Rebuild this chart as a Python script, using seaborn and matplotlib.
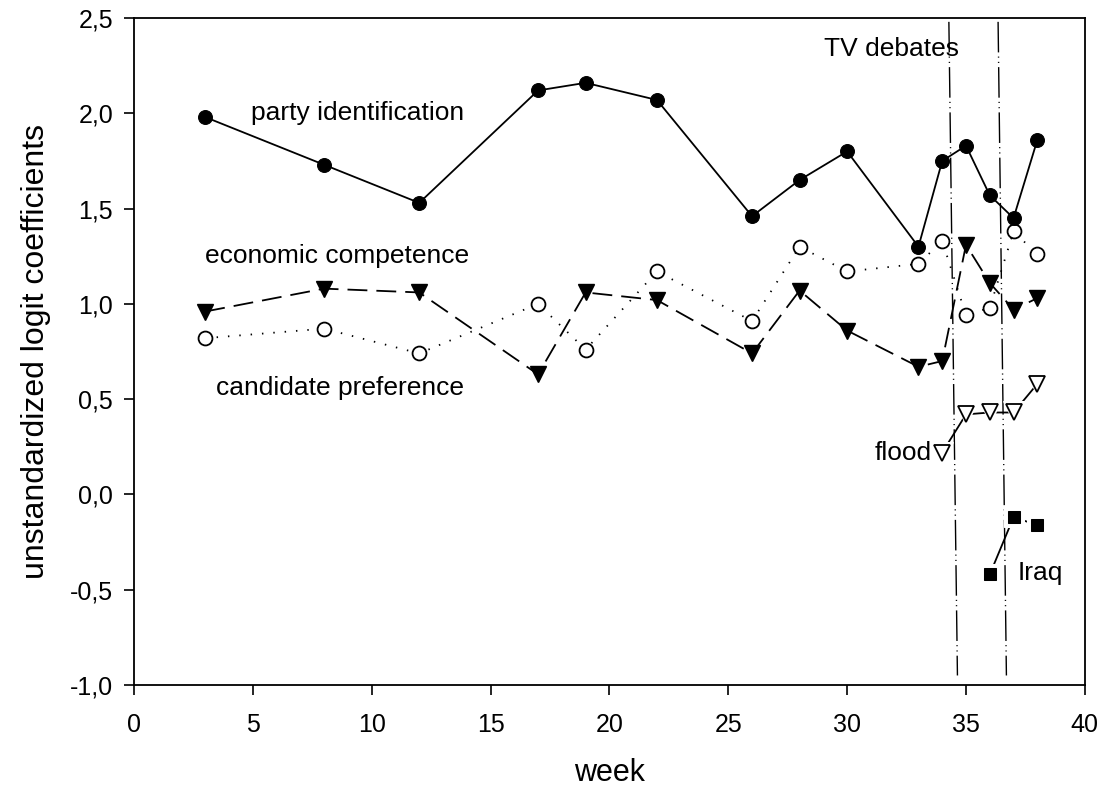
import matplotlib
matplotlib.use("Agg")
import matplotlib.pyplot as plt
import seaborn as sns
import pandas as pd

# Weekly logit coefficients
weeks_main = [3, 8, 12, 17, 19, 22, 26, 28, 30, 33, 34, 35, 36, 37, 38]
party_id = [1.98, 1.73, 1.53, 2.12, 2.16, 2.07, 1.46, 1.65, 1.80, 1.30, 1.75, 1.83, 1.57, 1.45, 1.86]
economic = [0.96, 1.08, 1.06, 0.63, 1.06, 1.02, 0.74, 1.07, 0.86, 0.67, 0.70, 1.31, 1.11, 0.97, 1.03]
candidate = [0.82, 0.87, 0.74, 1.00, 0.76, 1.17, 0.91, 1.30, 1.17, 1.21, 1.33, 0.94, 0.98, 1.38, 1.26]

weeks_flood = [34, 35, 36, 37, 38]
flood = [0.22, 0.42, 0.43, 0.43, 0.58]

weeks_iraq = [36, 37, 38]
iraq = [-0.42, -0.12, -0.16]

# TV debate markers (slightly slanted reference lines)
debate1_x = [34.28, 34.64]
debate2_x = [36.35, 36.70]
debate_y = [2.48, -0.95]

sns.set_theme(style="ticks")
plt.rcParams["font.family"] = ["Liberation Sans", "DejaVu Sans"]
plt.rcParams["text.color"] = "black"
plt.rcParams["axes.labelcolor"] = "black"
plt.rcParams["xtick.color"] = "black"
plt.rcParams["ytick.color"] = "black"

fig = plt.figure(figsize=(11.07, 7.98), dpi=100)
ax = fig.add_axes([0.121, 0.1416, 0.859, 0.8358])

lw = 1.3
ms = 10

# debate lines
dashdotdot = (0, (22, 3, 0.8, 3, 0.8, 3))
for xs in (debate1_x, debate2_x):
    ax.plot(xs, debate_y, color="black", lw=1.0, linestyle=dashdotdot, zorder=1)

df_main = pd.DataFrame({"week": weeks_main, "party": party_id,
                        "econ": economic, "cand": candidate})

sns.lineplot(data=df_main, x="week", y="cand", ax=ax, color="black", lw=lw,
             linestyle=(0, (0.8, 5.5)), marker="o", markersize=ms,
             markerfacecolor="white", markeredgecolor="black", markeredgewidth=1.3,
             zorder=3)
sns.lineplot(data=df_main, x="week", y="econ", ax=ax, color="black", lw=lw,
             linestyle=(0, (11, 5)), marker="v", markersize=ms + 1,
             markerfacecolor="black", markeredgecolor="black", markeredgewidth=1,
             zorder=3)
sns.lineplot(data=df_main, x="week", y="party", ax=ax, color="black", lw=lw,
             marker="o", markersize=ms, markerfacecolor="black",
             markeredgecolor="black", zorder=4)

df_flood = pd.DataFrame({"week": weeks_flood, "flood": flood})
df_iraq = pd.DataFrame({"week": weeks_iraq, "iraq": iraq})

sns.lineplot(data=df_flood, x="week", y="flood", ax=ax, color="black", lw=lw, zorder=3)
sns.lineplot(data=df_flood, x="week", y="flood", ax=ax, color="white", lw=0,
             marker="v", markersize=ms + 6, markerfacecolor="white",
             markeredgecolor="white", zorder=4)
sns.lineplot(data=df_flood, x="week", y="flood", ax=ax, color="black", lw=0,
             marker="v", markersize=ms + 1, markerfacecolor="white",
             markeredgecolor="black", markeredgewidth=1.3, zorder=5)

sns.lineplot(data=df_iraq, x="week", y="iraq", ax=ax, color="black", lw=lw, zorder=3)
sns.lineplot(data=df_iraq, x="week", y="iraq", ax=ax, color="white", lw=0,
             marker="s", markersize=ms + 5, markerfacecolor="white",
             markeredgecolor="white", zorder=4)
sns.lineplot(data=df_iraq, x="week", y="iraq", ax=ax, color="black", lw=0,
             marker="s", markersize=ms - 1, markerfacecolor="black",
             markeredgecolor="black", zorder=5)

# annotations
tfs = 19
ax.text(9.42, 2.0, "party identification", fontsize=tfs, ha="center", va="center")
ax.text(8.56, 1.25, "economic competence", fontsize=tfs, ha="center", va="center")
ax.text(8.66, 0.56, "candidate preference", fontsize=tfs, ha="center", va="center")
ax.text(34.72, 2.34, "TV debates", fontsize=tfs, ha="right", va="center")
ax.text(33.56, 0.22, "flood", fontsize=tfs, ha="right", va="center")
ax.text(37.17, -0.41, "Iraq", fontsize=tfs, ha="left", va="center")

ax.set_xlim(0, 40)
ax.set_ylim(-1.0, 2.5)
xticks = [0, 5, 10, 15, 20, 25, 30, 35, 40]
yticks = [-1.0, -0.5, 0.0, 0.5, 1.0, 1.5, 2.0, 2.5]
ax.set_xticks(xticks)
ax.set_xticklabels([str(t) for t in xticks])
ax.set_yticks(yticks)
ax.set_yticklabels([f"{t:.1f}".replace(".", ",") for t in yticks])

ax.tick_params(axis="both", direction="out", length=7, width=1.2,
               labelsize=18, colors="black", top=False, right=False)
ax.tick_params(axis="x", pad=13)
ax.tick_params(axis="y", pad=8)

for sp in ax.spines.values():
    sp.set_visible(True)
    sp.set_color("black")
    sp.set_linewidth(1.3)

ax.set_xlabel("week", fontsize=22, labelpad=15)
ax.set_ylabel("unstandardized logit coefficients", fontsize=23, labelpad=14)
ax.grid(False)
ax.set_facecolor("white")

fig.savefig("out.png", dpi=100, facecolor="white")
